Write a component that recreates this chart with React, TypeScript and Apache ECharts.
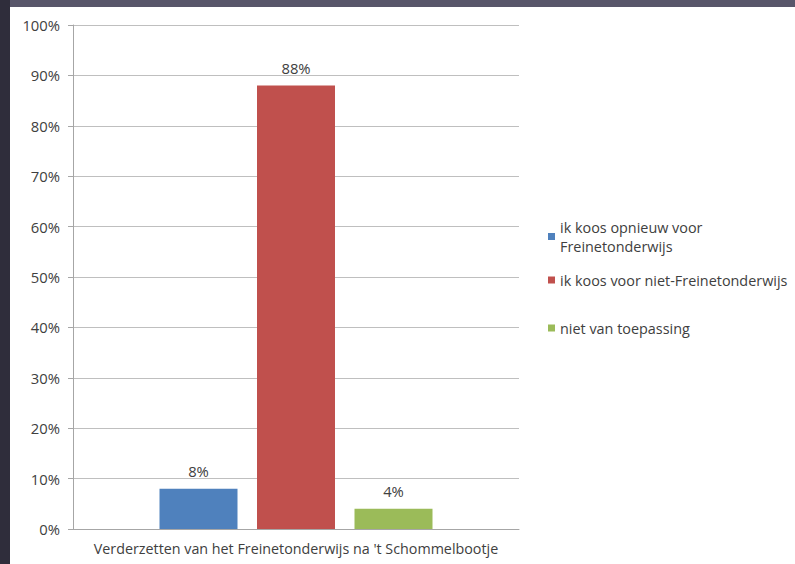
import React, { useEffect, useRef } from "react";
import * as echarts from "echarts";

const categories = ["Verderzetten van het Freinetonderwijs na 't Schommelbootje"];
const seriesNames = [
  "ik koos opnieuw voor\nFreinetonderwijs",
  "ik koos voor niet-Freinetonderwijs",
  "niet van toepassing",
];
const seriesValues = [[8], [88], [4]];
const seriesColors = ["#4f81bd", "#c0504d", "#9bbb59"];
const legendCenters = [236.5, 280, 328];

const FONT = "'Open Sans', 'Noto Sans', sans-serif";

export default function App() {
  const ref = useRef<HTMLDivElement>(null);
  useEffect(() => {
    document.body.style.margin = "0";
    const chart = echarts.init(ref.current!, null, { renderer: "svg" });
    chart.setOption({
      animation: false,
      backgroundColor: "#ffffff",
      textStyle: { fontFamily: FONT },
      graphic: [
        { type: "rect", left: 0, top: 0, shape: { width: 795, height: 7 }, style: { fill: "#58566a" }, z: 100 },
        { type: "rect", left: 0, top: 0, shape: { width: 10, height: 564 }, style: { fill: "#2f2d3b" }, z: 100 },
      ],
      grid: { left: 73, right: 276, top: 25, bottom: 35 },
      legend: seriesNames.map((n, i) => ({
        data: [n],
        orient: "vertical",
        left: 548,
        top: legendCenters[i] - (i === 0 ? 19 : 9.5),
        itemWidth: 7,
        itemHeight: 7,
        icon: "rect",
        textStyle: { fontSize: 14.4, color: "#404040", lineHeight: 19, fontFamily: FONT },
        itemGap: 0,
        padding: 0,
      })),
      xAxis: {
        type: "category",
        data: categories,
        axisLine: { lineStyle: { color: "#a6a6a6" } },
        axisTick: { show: false },
        axisLabel: { fontSize: 14.3, color: "#404040", margin: 12, fontFamily: FONT },
      },
      yAxis: {
        type: "value",
        min: 0,
        max: 100,
        interval: 10,
        axisLine: { show: true, lineStyle: { color: "#a6a6a6" } },
        axisTick: { show: true, length: 5, lineStyle: { color: "#a6a6a6" } },
        splitLine: { lineStyle: { color: "#bfbfbf" } },
        axisLabel: { formatter: "{value}%", fontSize: 14.8, color: "#404040", margin: 13, fontFamily: FONT },
      },
      series: seriesNames.map((n, i) => ({
        name: n,
        type: "bar",
        data: seriesValues[i],
        barWidth: 78,
        barGap: "25%",
        itemStyle: { color: seriesColors[i] },
        label: {
          show: true,
          position: "top",
          formatter: "{c}%",
          fontSize: 14.8,
          color: "#404040",
          distance: 10,
          fontFamily: FONT,
        },
      })),
    });
    return () => chart.dispose();
  }, []);
  return <div ref={ref} style={{ width: 795, height: 564 }} />;
}
